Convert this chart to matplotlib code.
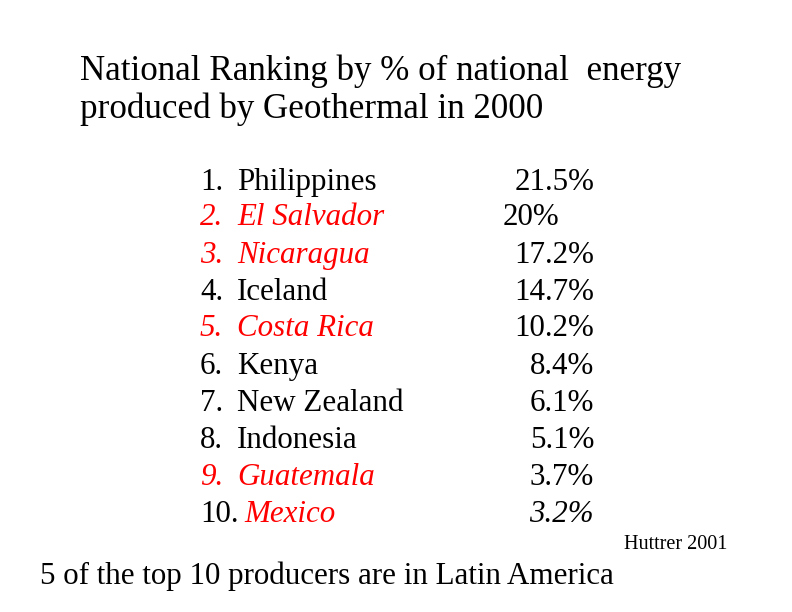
import matplotlib.pyplot as plt

countries = ["Philippines", "El Salvador", "Nicaragua", "Iceland", "Costa Rica",
             "Kenya", "New Zealand", "Indonesia", "Guatemala", "Mexico"]
shares = ["21.5%", "20%", "17.2%", "14.7%", "10.2%",
          "8.4%", "6.1%", "5.1%", "3.7%", "3.2%"]
latin = [False, True, True, False, True, False, False, False, True, True]
baselines = [190, 225, 263, 300, 336, 374, 411, 448, 485, 522]

W, H = 792, 612
fig = plt.figure(figsize=(W / 100, H / 100), dpi=100)
fig.patch.set_facecolor("white")
font = "Liberation Serif"
fs = 22.3


def put(x, y, s, **kw):
    kw.setdefault("fontfamily", font)
    kw.setdefault("va", "baseline")
    fig.text(x / W, 1 - y / H, s, **kw)


put(80, 80, "National Ranking by % of national  energy", fontsize=25.2)
put(80, 118, "produced by Geothermal in 2000", fontsize=25.2)

for i, (name, pct, red, y) in enumerate(zip(countries, shares, latin, baselines)):
    num = f"{i + 1}."
    if i == 9:
        put(200, y, num, fontsize=fs, color="black")
        put(244, y, name, fontsize=fs, color="red", style="italic")
        put(594, y, pct, fontsize=fs, style="italic", ha="right")
        continue
    c = "red" if red else "black"
    st = "italic" if red else "normal"
    put(200, y, num, fontsize=fs, color=c, style=st)
    put(237, y, name, fontsize=fs, color=c, style=st)
    if pct == "20%":
        put(503, y, pct, fontsize=fs)
    else:
        put(594, y, pct, fontsize=fs, ha="right")

put(727, 549, "Huttrer 2001", fontsize=14.5, ha="right")
put(40, 584, "5 of the top 10 producers are in Latin America", fontsize=22.3)

fig.savefig("out.png", dpi=100, facecolor="white")
